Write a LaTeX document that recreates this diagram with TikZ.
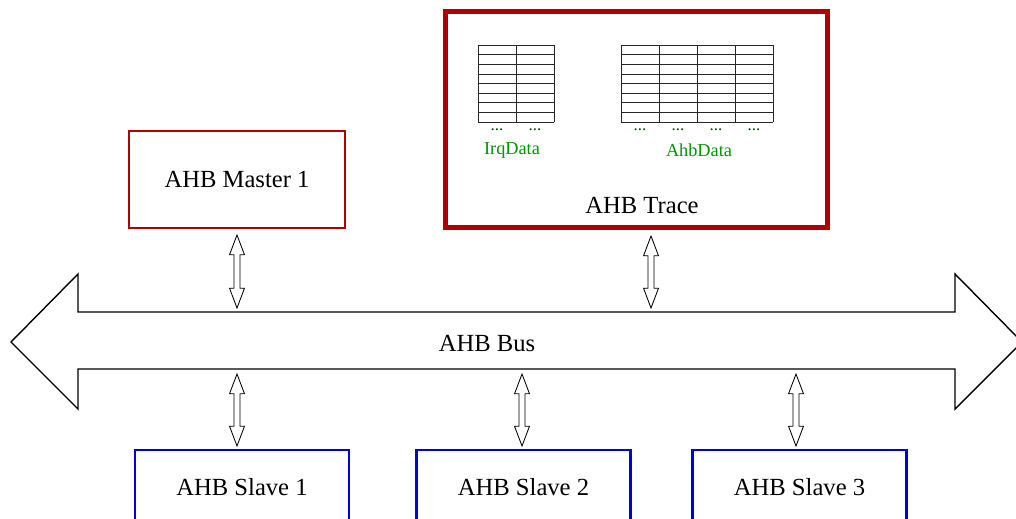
\documentclass[tikz,border=0pt]{standalone}
\usepackage{fontspec}
\setmainfont{Liberation Serif}
\usetikzlibrary{calc}

\definecolor{tracered}{RGB}{176,0,0}
\definecolor{slaveblue}{RGB}{0,0,215}
\definecolor{datagreen}{RGB}{0,150,0}

\tikzset{
  unit/.style={minimum width=#1, minimum height=2.425cm, inner sep=0pt,
    font=\fontsize{17.5}{20}\selectfont},
  masterbox/.style={unit=5.4cm, draw=tracered, line width=1.4pt},
  tracebox/.style={unit=9.55cm, minimum height=5.4cm, draw=tracered, line width=3.4pt},
  slavebox/.style={unit=5.35cm, minimum height=1.85cm, draw=slaveblue, line width=2pt},
  datalabel/.style={text=datagreen, font=\fontsize{13}{15}\selectfont, inner sep=0pt},
  dots/.style={text=datagreen!50!black, font=\fontsize{12}{12}\selectfont, inner sep=0pt},
  tbl/.style={line width=0.5pt, black!85},
  bus/.style={line width=1pt, black},
  dlink/.style={line width=0.6pt, black, fill=white},
}

% hollow two-headed arrow between two points, first above second
\newcommand\dlink[2]{%
  \draw[dlink] let \p1=(#1), \p2=(#2) in
    (\x1,\y1) -- (\x1-5.3pt,\y1-14pt) -- (\x1-2.1pt,\y1-14pt)
    -- (\x1-2.1pt,\y2+14pt) -- (\x1-5.3pt,\y2+14pt) -- (\x2,\y2)
    -- (\x1+5.3pt,\y2+14pt) -- (\x1+2.1pt,\y2+14pt)
    -- (\x1+2.1pt,\y1-14pt) -- (\x1+5.3pt,\y1-14pt) -- cycle;}

\begin{document}
\begin{tikzpicture}[x=0.025cm,y=-0.025cm]
\useasboundingbox (0,0) rectangle (1016,518);

% bus
\draw[bus] (11,342) -- (78,274) -- (78,312) -- (955,312) -- (955,274)
  -- (1022,342) -- (955,409) -- (955,369) -- (78,369) -- (78,409) -- cycle;
\node[font=\fontsize{17.5}{20}\selectfont] (bus) at (487,343) {AHB Bus};

% master and trace
\node[masterbox] (master) at (237,179.5) {AHB Master 1};
\node[tracebox] (trace) at (636.5,119.5) {};
\node[font=\fontsize{17.5}{20}\selectfont] (tracelbl) at (642,205) {AHB Trace};

% trace tables
\foreach \r in {0,...,8}
  \draw[tbl] (478,45+\r*9.625) -- (554,45+\r*9.625)
             (621,45+\r*9.625) -- (773,45+\r*9.625);
\foreach \c in {0,1,2}
  \draw[tbl] (478+\c*38,45) -- (478+\c*38,122);
\foreach \c in {0,...,4}
  \draw[tbl] (621+\c*38,45) -- (621+\c*38,122);
\foreach \c [count=\i] in {497,535}
  \node[dots] (irqdots\i) at (\c,130) {...};
\foreach \c [count=\i] in {640,678,716,754}
  \node[dots] (ahbdots\i) at (\c,130) {...};
\node[datalabel] (irq) at (512,150) {IrqData};
\node[datalabel] (ahb) at (699,150) {AhbData};

% slaves
\node[slavebox] (slave1) at (242,487) {AHB Slave 1};
\node[slavebox] (slave2) at (523.5,487) {AHB Slave 2};
\node[slavebox] (slave3) at (799.5,487) {AHB Slave 3};

% links to the bus
\coordinate (mt) at (237,235);  \coordinate (mb) at (237,308);
\coordinate (tt) at (651,236);  \coordinate (tb) at (651,308);
\coordinate (s1t) at (237,374); \coordinate (s1b) at (237,446);
\coordinate (s2t) at (522,374); \coordinate (s2b) at (522,446);
\coordinate (s3t) at (796,374); \coordinate (s3b) at (796,446);
\dlink{mt}{mb}
\dlink{tt}{tb}
\dlink{s1t}{s1b}
\dlink{s2t}{s2b}
\dlink{s3t}{s3b}
\end{tikzpicture}
\end{document}
